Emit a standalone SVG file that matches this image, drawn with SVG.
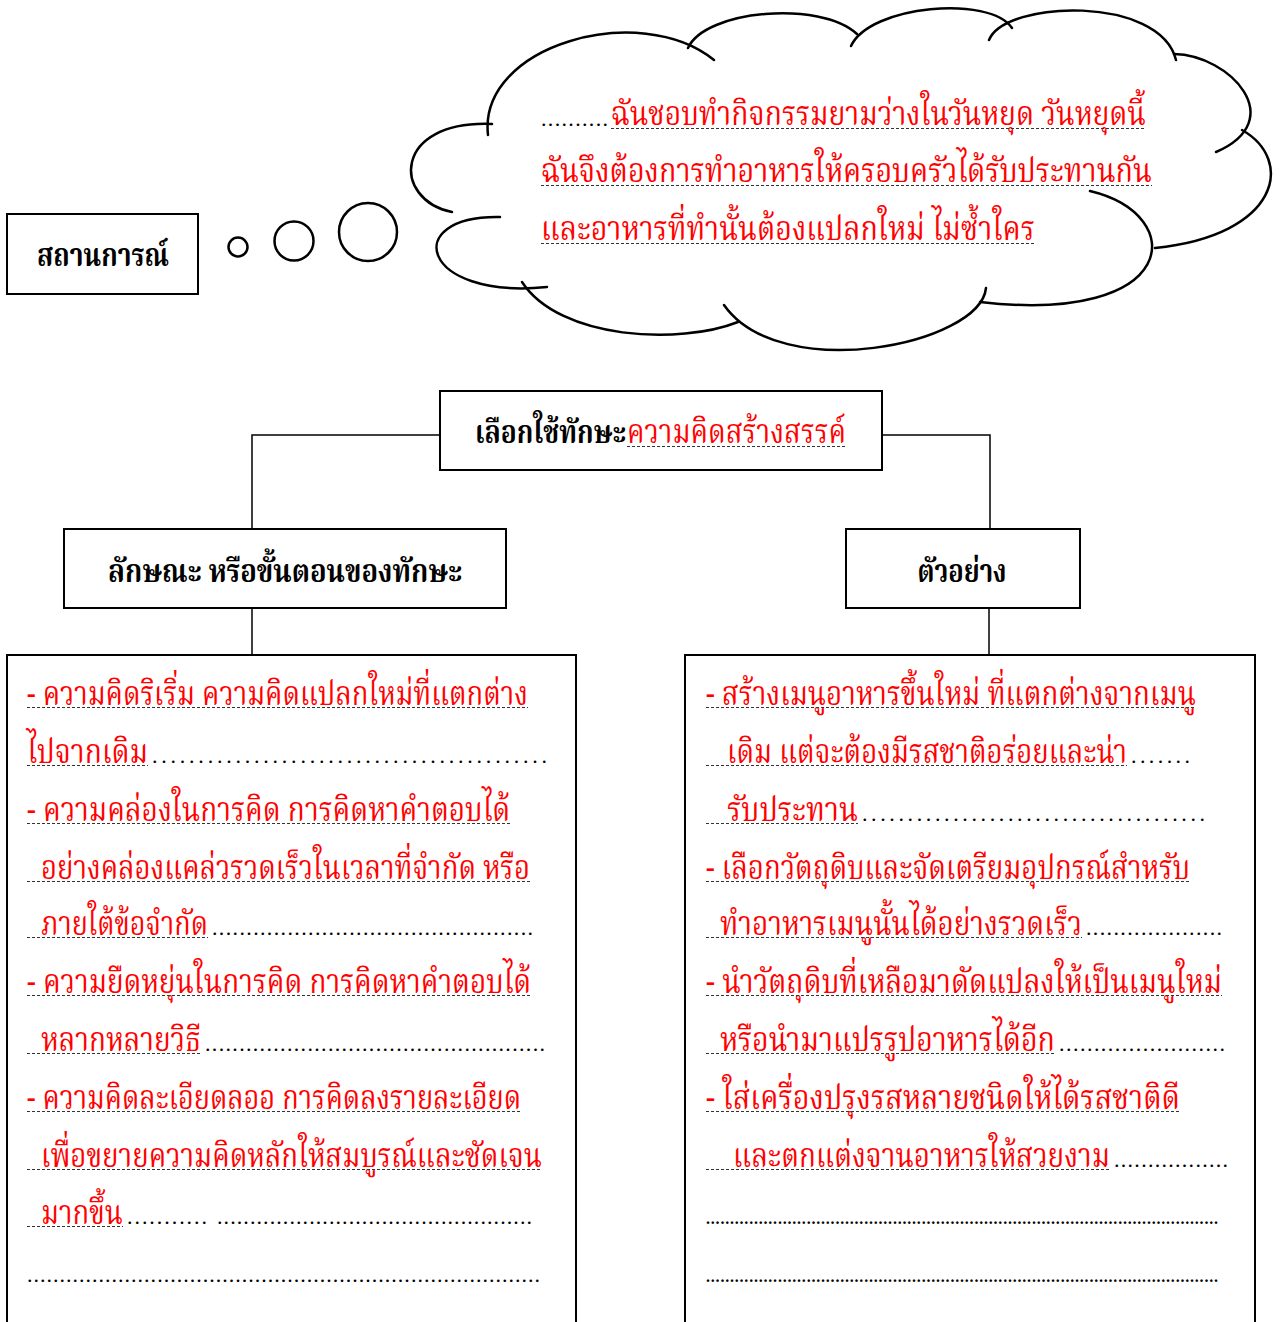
<svg xmlns="http://www.w3.org/2000/svg" width="1284" height="1322" viewBox="0 0 1284 1322">
<style>
text{font-family:"Noto Serif Thai","Noto Sans Thai Looped","Norasi","Garuda","Noto Sans Thai","Noto Sans","DejaVu Sans",sans-serif;}
.r{fill:#ff0000;font-size:34px;}
.b{fill:#000;font-weight:bold;font-size:32px;}
text.d{fill:#000;font-size:22px;font-family:"Liberation Serif","DejaVu Serif",serif;}
text.ds{fill:#000;font-size:16px;font-weight:bold;font-family:"Liberation Serif","DejaVu Serif",serif;}
.u{stroke:#333;stroke-width:1.2;stroke-dasharray:3 2;fill:none;}
.box{fill:#fff;stroke:#000;stroke-width:2;}
.cl{fill:none;stroke:#000;stroke-width:2.5;stroke-linecap:round;}
.ln{fill:none;stroke:#000;stroke-width:1.5;}
</style>
<rect width="1284" height="1322" fill="#fff"/>

<g id="connectors">
<polyline class="ln" points="439,435 252,435 252,529"/>
<polyline class="ln" points="882,435 990,435 990,529"/>
<line class="ln" x1="252" y1="608" x2="252" y2="654"/>
<line class="ln" x1="989" y1="608" x2="989" y2="654"/>
</g>

<g id="situation">
<rect class="box" x="7" y="214" width="191" height="80"/>
<text class="b" x="103" y="266" text-anchor="middle" textLength="132" lengthAdjust="spacingAndGlyphs">สถานการณ์</text>
</g>

<g id="thought-bubbles">
<circle class="cl" cx="238" cy="247" r="9.5"/>
<circle class="cl" cx="294" cy="241" r="19.5"/>
<circle class="cl" cx="368" cy="232" r="29"/>
</g>

<g id="cloud">
<path class="cl" d="M452,212 C392,200 392,120 492,124"/>
<path class="cl" d="M488,135 C478,45 640,0 714,60"/>
<path class="cl" d="M688,48 C705,10 820,0 857,34"/>
<path class="cl" d="M851,46 C870,5 990,-5 1012,28"/>
<path class="cl" d="M989,40 C1005,0 1160,-5 1176,60"/>
<path class="cl" d="M1174,54 C1230,55 1290,120 1216,152"/>
<path class="cl" d="M1242,130 C1295,160 1280,235 1155,248"/>
<path class="cl" d="M1090,191 C1190,215 1180,325 980,302"/>
<path class="cl" d="M986,288 C980,345 780,385 724,305"/>
<path class="cl" d="M738,322 C680,345 560,340 522,282"/>
<path class="cl" d="M547,287 C420,300 400,215 500,217"/>
<text class="d" x="541" y="126" textLength="67" lengthAdjust="spacing">..........</text>
<text class="r" x="611" y="125" textLength="535" lengthAdjust="spacingAndGlyphs">ฉันชอบทำกิจกรรมยามว่างในวันหยุด วันหยุดนี้</text>
<line class="u" x1="611" y1="128.5" x2="1146" y2="128.5"/>
<text class="r" x="541" y="182" textLength="611" lengthAdjust="spacingAndGlyphs">ฉันจึงต้องการทำอาหารให้ครอบครัวได้รับประทานกัน</text>
<line class="u" x1="541" y1="185.5" x2="1152" y2="185.5"/>
<text class="r" x="541" y="240" textLength="494" lengthAdjust="spacingAndGlyphs">และอาหารที่ทำนั้นต้องแปลกใหม่ ไม่ซ้ำใคร</text>
<line class="u" x1="541" y1="243.5" x2="1035" y2="243.5"/>
</g>

<g id="skill">
<rect class="box" x="440" y="391" width="442" height="79"/>
<text class="b" x="475" y="443" textLength="151" lengthAdjust="spacingAndGlyphs">เลือกใช้ทักษะ</text>
<text class="r" x="627" y="443" textLength="219" lengthAdjust="spacingAndGlyphs">ความคิดสร้างสรรค์</text>
<line class="u" x1="627" y1="446.5" x2="846" y2="446.5"/>
</g>

<g id="characteristics">
<rect class="box" x="64" y="529" width="442" height="79"/>
<text class="b" x="285" y="582" text-anchor="middle" textLength="354" lengthAdjust="spacingAndGlyphs">ลักษณะ หรือขั้นตอนของทักษะ</text>
</g>

<g id="example">
<rect class="box" x="846" y="529" width="234" height="79"/>
<text class="b" x="962" y="582" text-anchor="middle" textLength="89" lengthAdjust="spacingAndGlyphs">ตัวอย่าง</text>
</g>

<g id="characteristics-detail">
<rect class="box" x="7" y="655" width="569" height="700"/>
<text class="r" x="27" y="705" textLength="501" lengthAdjust="spacingAndGlyphs">- ความคิดริเริ่ม ความคิดแปลกใหม่ที่แตกต่าง</text>
<line class="u" x1="27" y1="707.5" x2="528" y2="707.5"/>
<text class="r" x="27" y="763" textLength="121" lengthAdjust="spacingAndGlyphs">ไปจากเดิม</text>
<line class="u" x1="27" y1="765.5" x2="148" y2="765.5"/>
<text class="d" x="152" y="763" textLength="395" lengthAdjust="spacing">...........................................</text>
<text class="r" x="27" y="821" textLength="483" lengthAdjust="spacingAndGlyphs">- ความคล่องในการคิด การคิดหาคำตอบได้</text>
<line class="u" x1="27" y1="823.5" x2="510" y2="823.5"/>
<text class="r" x="41" y="879" textLength="489" lengthAdjust="spacingAndGlyphs">อย่างคล่องแคล่วรวดเร็วในเวลาที่จำกัด หรือ</text>
<line class="u" x1="27" y1="881.5" x2="530" y2="881.5"/>
<text class="r" x="41" y="935" textLength="167" lengthAdjust="spacingAndGlyphs">ภายใต้ข้อจำกัด</text>
<line class="u" x1="27" y1="937.5" x2="208" y2="937.5"/>
<text class="d" x="212" y="935" textLength="321" lengthAdjust="spacing">...............................................</text>
<text class="r" x="27" y="993" textLength="504" lengthAdjust="spacingAndGlyphs">- ความยืดหยุ่นในการคิด การคิดหาคำตอบได้</text>
<line class="u" x1="27" y1="995.5" x2="531" y2="995.5"/>
<text class="r" x="41" y="1051" textLength="160" lengthAdjust="spacingAndGlyphs">หลากหลายวิธี</text>
<line class="u" x1="27" y1="1053.5" x2="201" y2="1053.5"/>
<text class="d" x="205" y="1051" textLength="340" lengthAdjust="spacing">..................................................</text>
<text class="r" x="27" y="1109" textLength="494" lengthAdjust="spacingAndGlyphs">- ความคิดละเอียดลออ การคิดลงรายละเอียด</text>
<line class="u" x1="27" y1="1111.5" x2="521" y2="1111.5"/>
<text class="r" x="41" y="1167" textLength="501" lengthAdjust="spacingAndGlyphs">เพื่อขยายความคิดหลักให้สมบูรณ์และชัดเจน</text>
<line class="u" x1="27" y1="1169.5" x2="542" y2="1169.5"/>
<text class="r" x="41" y="1224" textLength="82" lengthAdjust="spacingAndGlyphs">มากขึ้น</text>
<line class="u" x1="27" y1="1226.5" x2="123" y2="1226.5"/>
<text class="d" x="127" y="1224" textLength="80" lengthAdjust="spacing">...........</text>
<text class="d" x="217" y="1224" textLength="315" lengthAdjust="spacing">................................................</text>
<text class="d" x="27" y="1282" textLength="513" lengthAdjust="spacing">...............................................................................</text>
</g>

<g id="example-detail">
<rect class="box" x="685" y="655" width="570" height="700"/>
<text class="r" x="706" y="705" textLength="490" lengthAdjust="spacingAndGlyphs">- สร้างเมนูอาหารขึ้นใหม่ ที่แตกต่างจากเมนู</text>
<line class="u" x1="706" y1="707.5" x2="1196" y2="707.5"/>
<text class="r" x="727" y="763" textLength="400" lengthAdjust="spacingAndGlyphs">เดิม แต่จะต้องมีรสชาติอร่อยและน่า</text>
<line class="u" x1="706" y1="765.5" x2="1127" y2="765.5"/>
<text class="d" x="1131" y="763" textLength="59" lengthAdjust="spacing">.......</text>
<text class="r" x="727" y="821" textLength="131" lengthAdjust="spacingAndGlyphs">รับประทาน</text>
<line class="u" x1="706" y1="823.5" x2="858" y2="823.5"/>
<text class="d" x="862" y="821" textLength="343" lengthAdjust="spacing">......................................</text>
<text class="r" x="706" y="879" textLength="484" lengthAdjust="spacingAndGlyphs">- เลือกวัตถุดิบและจัดเตรียมอุปกรณ์สำหรับ</text>
<line class="u" x1="706" y1="881.5" x2="1190" y2="881.5"/>
<text class="r" x="720" y="935" textLength="362" lengthAdjust="spacingAndGlyphs">ทำอาหารเมนูนั้นได้อย่างรวดเร็ว</text>
<line class="u" x1="706" y1="937.5" x2="1082" y2="937.5"/>
<text class="d" x="1086" y="935" textLength="136" lengthAdjust="spacing">....................</text>
<text class="r" x="706" y="993" textLength="516" lengthAdjust="spacingAndGlyphs">- นำวัตถุดิบที่เหลือมาดัดแปลงให้เป็นเมนูใหม่</text>
<line class="u" x1="706" y1="995.5" x2="1222" y2="995.5"/>
<text class="r" x="720" y="1051" textLength="335" lengthAdjust="spacingAndGlyphs">หรือนำมาแปรรูปอาหารได้อีก</text>
<line class="u" x1="706" y1="1053.5" x2="1055" y2="1053.5"/>
<text class="d" x="1059" y="1051" textLength="166" lengthAdjust="spacing">........................</text>
<text class="r" x="706" y="1109" textLength="474" lengthAdjust="spacingAndGlyphs">- ใส่เครื่องปรุงรสหลายชนิดให้ได้รสชาติดี</text>
<line class="u" x1="706" y1="1111.5" x2="1180" y2="1111.5"/>
<text class="r" x="733" y="1167" textLength="377" lengthAdjust="spacingAndGlyphs">และตกแต่งจานอาหารให้สวยงาม</text>
<line class="u" x1="706" y1="1169.5" x2="1110" y2="1169.5"/>
<text class="d" x="1114" y="1167" textLength="114" lengthAdjust="spacing">.................</text>
<text class="ds" x="706" y="1224" textLength="512" lengthAdjust="spacing">...........................................................................................................</text>
<text class="ds" x="706" y="1282" textLength="512" lengthAdjust="spacing">...........................................................................................................</text>
</g>
</svg>
